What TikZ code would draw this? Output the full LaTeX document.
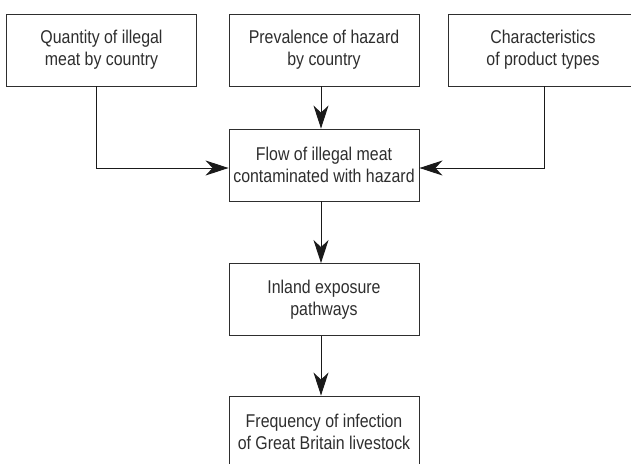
\documentclass[tikz,border=0pt]{standalone}
\usepackage{fontspec}
\setmainfont[FakeStretch=0.86]{Liberation Sans}
\usetikzlibrary{arrows.meta}
\definecolor{ink}{HTML}{2E2E2E}
\definecolor{tip}{HTML}{1A1A1A}
\begin{document}
\begin{tikzpicture}[x=1pt,y=-1pt,
  box/.style={draw=ink, line width=0.9pt, minimum width=190pt, minimum height=72pt,
    inner sep=0pt, align=center, text=ink, font=\fontsize{18.5}{22}\selectfont},
  link/.style={draw=tip, line width=1pt,
    -{Stealth[length=23pt, width=15pt, inset=7pt]}}]
\clip (0,0) rectangle (631,463);
\fill[white] (0,0) rectangle (631,463);

\node[box] (qty)  at (101.5,50) {Quantity of illegal\\meat by country};
\node[box] (prev) at (324,50)   {Prevalence of hazard\\by country};
\node[box] (char) at (543,50)   {Characteristics\\of product types};
\node[box] (flow) at (324,165)  {Flow of illegal meat\\contaminated with hazard};
\node[box] (inl)  at (324,299.5){Inland exposure\\pathways};
\node[box] (freq) at (324,432)  {Frequency of infection\\of Great Britain livestock};

\coordinate (qbend) at ([xshift=-4.8pt]qty.south |- 0,168);
\coordinate (cbend) at ([xshift=1pt]char.south |- 0,168);

\draw[link] ([xshift=-4.8pt]qty.south) -- (qbend) -- (flow.west |- qbend);
\draw[link] ([xshift=1pt]char.south) -- (cbend) -- (flow.east |- cbend);
\draw[link] ([xshift=-3pt]prev.south) -- ([xshift=-3pt]flow.north);
\draw[link] ([xshift=-3pt]flow.south) -- ([xshift=-3pt]inl.north);
\draw[link] ([xshift=-3pt]inl.south) -- ([xshift=-3pt]freq.north);
\end{tikzpicture}
\end{document}
